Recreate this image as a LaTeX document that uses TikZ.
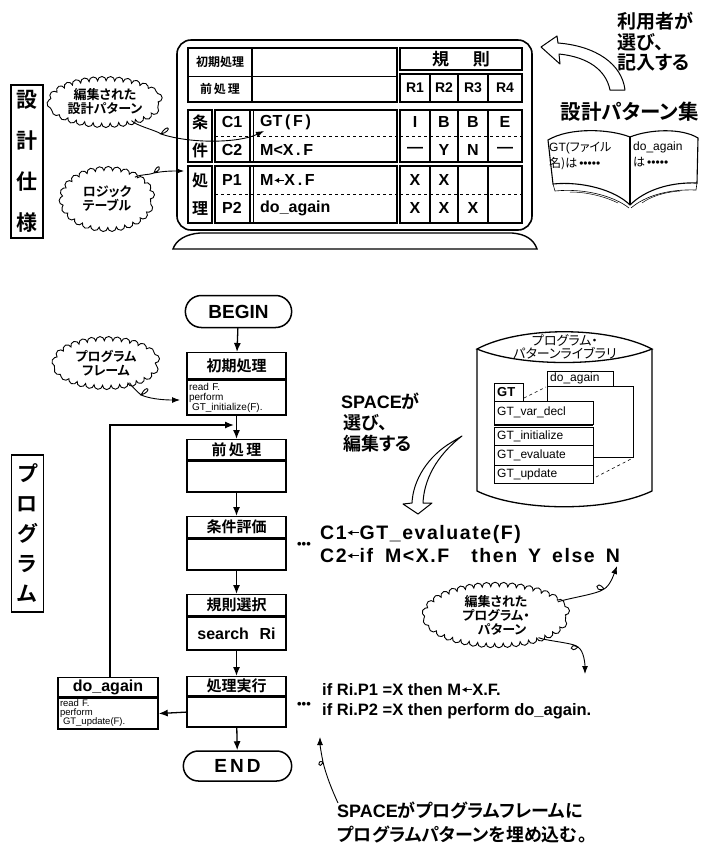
\documentclass[tikz,border=0pt]{standalone}
\usepackage{fontspec}
\setmainfont{Liberation Sans}
\newfontfamily\jpfont{Noto Sans CJK JP}[BoldFont=* Bold, RawFeature=+palt]
\usetikzlibrary{shapes.geometric,shapes.misc,arrows.meta,decorations.pathmorphing,positioning}

\newcommand\fsz[1]{\fontsize{#1}{#1}\selectfont}
\newcommand\jb{\jpfont\bfseries}
% short bold assignment arrow
\newcommand\la{\tikz[baseline=-0.32em, x=1pt, y=1pt]\draw[line width=1.3pt, -{Latex[length=5pt,width=5.5pt]}] (0.6em,0) -- (0,0);}

\tikzset{
  vbox/.style={draw, line width=1.4pt, minimum width=32pt, inner sep=0pt, align=center},
  hdr/.style={draw, line width=1.4pt, anchor=north, minimum width=99pt, inner sep=0pt, font=\jb\fsz{15}},
  body/.style={draw, line width=1.4pt, anchor=north, text width=95pt, inner sep=2pt, align=left},
  term/.style={draw, line width=1.5pt, rounded rectangle, minimum height=32pt, font=\fsz{19}\bfseries},
  flow/.style={line width=1.3pt, -{Latex[length=9pt,width=7pt]}},
  tail/.style={line width=0.9pt, -{Latex[length=8pt,width=6pt]}},
  note/.style={ellipse, draw, line width=0.9pt, inner sep=0pt, align=center,
    decorate, decoration={bumps, mirror, segment length=17pt, amplitude=4.5pt},
    font=\jb\fontsize{13}{14}\selectfont},
  cell/.style={inner sep=0pt, font=\fsz{16}\bfseries},
  code/.style={anchor=base west, inner sep=0pt, font=\fsz{19.5}\bfseries\addfontfeature{LetterSpace=8}},
  exec/.style={anchor=base west, inner sep=0pt, font=\fsz{16.5}\bfseries},
  dots/.style={inner sep=0pt, font=\fsz{13}\bfseries},
  hollow/.style={draw, line width=1pt, fill=white, line join=round},
  lib/.style={anchor=west, inner sep=0pt, font=\fsz{12}},
}

\begin{document}
\begin{tikzpicture}[x=1pt,y=-1pt]
\useasboundingbox (0,0) rectangle (710,847);

%% design spec (decision table on a monitor)
\node[vbox, minimum height=153pt, font=\jb\fontsize{21}{41}\selectfont] (spec) at (27,161.5) {設\\計\\仕\\様};

\draw[line width=1.6pt, rounded corners=14pt] (177,40) rectangle (532,230);
\draw[line width=1.4pt] (173,249) .. controls (176,240) and (186,234) .. (200,233) -- (512,233)
  .. controls (526,234) and (534,240) .. (537,249) -- cycle;

\begin{scope}[line width=1.2pt]
  % frame rows
  \draw (188,48) rectangle (397,102);
  \draw (252,48) -- (252,102);
  \draw[line width=0.7pt] (188,76) -- (397,76);
  % rules header
  \draw (400,48) rectangle (522,70);
  \draw (400,74) rectangle (522,102);
  % conditions
  \draw (188,110) rectangle (212,162);
  \draw (215,110) rectangle (397,162);
  \draw (400,110) rectangle (522,162);
  % actions
  \draw (188,166) rectangle (212,223);
  \draw (215,166) rectangle (397,223);
  \draw (400,166) rectangle (522,223);
  \foreach \y/\h in {110/162,166/223} {
    \draw (250,\y) -- (250,\h);
    \draw[line width=0.6pt] (253,\y) -- (253,\h);
  }
  \foreach \x in {430,458,488} {
    \draw (\x,74) -- (\x,102);
    \draw (\x,110) -- (\x,162);
    \draw (\x,166) -- (\x,223);
  }
  \draw[dashed, line width=0.7pt] (215,136) -- (397,136) (400,136) -- (522,136);
  \draw[dashed, line width=0.7pt] (215,194) -- (397,194) (400,194) -- (522,194);
\end{scope}

\node[font=\jb\fsz{12}] (ini) at (220,62) {初期処理};
\node[font=\jb\fsz{12}] (pre) at (220,89) {前\,処\,理};
\node[font=\jb\fsz{17}] (rules) at (461,59) {規\hspace{24pt}則};
\foreach \x/\t [count=\i] in {415/R1,444/R2,473/R3,505/R4}
  \node[cell, font=\fsz{14}\bfseries] (r\i) at (\x,88) {\t};
\node[font=\jb\fontsize{16}{28}\selectfont, inner sep=0pt, align=center] (cnd) at (200,136) {条\\件};
\node[font=\jb\fontsize{16}{28}\selectfont, inner sep=0pt, align=center] (act) at (200,194.5) {処\\理};
\node[cell] (c1) at (232,122) {C1};
\node[cell] (c2) at (232,150) {C2};
\node[cell] (p1) at (232,180) {P1};
\node[cell] (p2) at (232,208) {P2};
\node[cell, anchor=west] (gt) at (260,122) {GT\,(\,F\,)};
\node[cell, anchor=west] (lt) at (260,150) {M<X\,.\,F};
\node[cell, anchor=west] (mv) at (260,180) {M\la X\,.\,F};
\node[cell, anchor=west] (da) at (260,208) {do\_again};
\foreach \x/\a/\b [count=\i] in {415/I/—,444/B/Y,473/B/N,505/E/—} {
  \node[cell] (ca\i) at (\x,122) {\a};
  \node[cell] (cb\i) at (\x,150) {\b};
}
\foreach \x/\a/\b [count=\i] in {415/X/X,444/X/X,473/{}/X,505/{}/{}} {
  \node[cell] (pa\i) at (\x,180) {\a};
  \node[cell] (pb\i) at (\x,208) {\b};
}

% notes on the table
\node[note, minimum width=96pt, minimum height=42pt] (edited) at (105,102) {編集された\\設計パターン};
\node[note, minimum width=86pt, minimum height=56pt] (logic) at (107,199) {ロジック\\テーブル};
\coordinate (gtin) at (264,131);
\coordinate (tblin) at (184,171);
\draw[tail] (edited.-35) .. controls +(4,5) and +(-3,-3) .. (161,134)
  .. controls +(7,-12) and +(12,-3) .. (161,134)
  .. controls +(30,10) and +(-25,12) .. (gtin);
\draw[tail] (logic.38) .. controls +(5,-3) and +(-4,2) .. (154,173)
  .. controls +(3,-11) and +(11,-5) .. (154,173)
  .. controls +(10,-2) and +(-12,0) .. (tblin);

% pattern book
\draw[hollow] (610,90) .. controls (606,70) and (588,57) .. (559,54) -- (560,64) -- (541,47)
  -- (557,36) -- (558,43) .. controls (596,46) and (622,64) .. (625,90) -- cycle;
\node[anchor=north west, inner sep=0pt, align=left, font=\jb\fontsize{19}{20.5}\selectfont] (user) at (617,12) {利用者が\\選び、\\記入する};
\node[font=\jb\fsz{20.5}] (patbook) at (630,112) {設計パターン集};
\begin{scope}[line width=1.1pt]
  \draw (630,137) .. controls (610,129) and (570,127) .. (548,140) -- (553,184)
    .. controls (582,181) and (615,190) .. (630,205);
  \draw (630,137) .. controls (650,129) and (682,128) .. (698,138) -- (697,183)
    .. controls (670,182) and (645,190) .. (630,205);
  \draw (630,137) -- (630,205);
  \draw[line width=0.6pt] (553,184) -- (555,191) .. controls (584,188) and (614,196) .. (629,208);
  \draw[line width=0.6pt] (697,183) -- (696,190) .. controls (668,189) and (645,196) .. (631,208);
  \draw[line width=0.5pt] (570,192) .. controls (590,192) and (608,198) .. (618,203);
  \draw[line width=0.5pt] (680,191) .. controls (664,192) and (650,197) .. (642,203);
\end{scope}
\node[anchor=north west, inner sep=0pt, align=left, font=\fontsize{12}{16}\selectfont] (pgl) at (549,142) {GT({\jpfont ファイル}\\{\jpfont 名)は}\,\textbullet\textbullet\textbullet\textbullet\textbullet};
\node[anchor=north west, inner sep=0pt, align=left, font=\fontsize{12}{16}\selectfont] (pgr) at (633,142) {do\_again\\{\jpfont は}\,\textbullet\textbullet\textbullet\textbullet\textbullet};

%% program (flowchart)
\node[vbox, minimum height=157pt, font=\jb\fontsize{21}{30}\selectfont] (prog) at (27.5,533.5) {プ\\ロ\\グ\\ラ\\ム};

\node[term, minimum width=113pt] (begin) at (238.5,311.5) {BEGIN};
\node[hdr, minimum height=26pt] (inith) at (236.5,352) {初期処理};
\node[body, minimum height=35pt, font=\fontsize{10}{10}\selectfont] (initb) at (inith.south) {read F.\\perform\\\hspace*{3pt}GT\_initialize(F).};
\node[hdr, minimum height=20pt] (preh) at (236.5,439) {前\,処\,理};
\node[body, minimum height=31pt] (preb) at (preh.south) {};
\node[hdr, minimum height=21pt] (condh) at (236.5,516) {条件評価};
\node[body, minimum height=31pt] (condb) at (condh.south) {};
\node[hdr, minimum height=21pt] (ruleh) at (236.5,594) {規則選択};
\node[body, minimum height=33pt, align=center, font=\fsz{16}\bfseries] (ruleb) at (ruleh.south) {search\ \ Ri};
\node[hdr, minimum height=19pt] (exech) at (236.5,676) {処理実行};
\node[body, minimum height=30pt] (execb) at (exech.south) {};
\node[term, minimum width=115pt, minimum height=30pt] (end) at (237.5,766) {E\,N\,D};
\node[hdr, minimum height=19pt, minimum width=100pt, font=\fsz{16}\bfseries] (doagh) at (108,677) {do\_again};
\node[body, minimum height=27pt, text width=96pt, font=\fontsize{9.5}{9}\selectfont] (doagb) at (doagh.south) {read F.\\perform\\\hspace*{3pt}GT\_update(F).};

\draw[flow] (begin) -- (inith);
\draw[flow] (initb) -- (preh);
\draw[flow] (preb) -- (condh);
\draw[flow] (condb) -- (ruleh);
\draw[flow] (ruleb) -- (exech);
\draw[flow] (execb) -- (end);
\draw[flow] (execb.west) -- (doagb.east);
\coordinate (loopin) at (234,425);
\draw[flow] (doagh.north -| 110,0) |- (loopin);

\node[note, minimum width=98pt, minimum height=44pt] (frame) at (106,363) {プログラム\\フレーム};
\coordinate (framein) at (180,400);
\draw[tail] (frame.-40) .. controls +(3,5) and +(-3,-3) .. (141,395)
  .. controls +(6,-12) and +(12,-4) .. (141,395)
  .. controls +(12,5) and +(-10,0) .. (framein);

% filled-in patterns
\node[dots] (dots1) at (304,545) {\textbullet\textbullet\textbullet};
\node[dots] (dots2) at (304,705) {\textbullet\textbullet\textbullet};
\node[code] (ln1) at (320,539) {C1\la GT\_evaluate(F)};
\node[code] (ln2) at (320,562) {C2\la if\hspace{12pt}M<X.F\hspace{22pt}then\hspace{11pt}Y\hspace{11pt}else\hspace{11pt}N};
\node[exec] (ln3) at (322,695) {if Ri.P1 =X then M\la X.F.};
\node[exec] (ln4) at (322,715) {if Ri.P2 =X then perform do\_again.};

% pattern library
\begin{scope}[line width=1.3pt]
  \draw (477,349) -- (477,491) .. controls (520,512) and (608,512) .. (652,491) -- (652,349);
  \draw (477,349) .. controls (520,326) and (608,326) .. (652,349)
    .. controls (608,367) and (520,367) .. cycle;
\end{scope}
\node[font=\jpfont\fontsize{13}{12.5}\selectfont, align=center, inner sep=0pt] (libname) at (565,347) {プログラム・\\パターンライブラリ};
\begin{scope}[line width=1pt]
  \draw (547,401) -- (547,386) -- (633,386) -- (633,457) -- (593,457);
  \draw (547,371) rectangle (613,386);
  \draw (494,383) rectangle (523,401);
  \draw (494,401) rectangle (593,424);
  \draw[line width=1.6pt] (494,425.5) -- (593,425.5);
  \draw (494,427) rectangle (593,445);
  \draw (494,445) rectangle (593,465);
  \draw (494,465) rectangle (593,483);
  \draw[dashed, line width=0.6pt] (524,398) -- (546,387);
  \draw[dashed, line width=0.6pt] (596,477) -- (631,459);
\end{scope}
\node[lib] (pda) at (550,378.5) {do\_again};
\node[lib, font=\fsz{13}\bfseries] (pgt) at (497,392) {GT};
\node[lib] (pvar) at (497,412.5) {GT\_var\_decl};
\node[lib] (pini) at (497,436) {GT\_initialize};
\node[lib] (peva) at (497,455) {GT\_evaluate};
\node[lib] (pupd) at (497,474) {GT\_update};

\draw[hollow] (452,442) .. controls (428,456) and (413,480) .. (412,503) -- (403,504) -- (418,514)
  -- (432,503) -- (423,503) .. controls (424,480) and (436,456) .. (462,436) -- cycle;
\node[anchor=north west, inner sep=0pt, align=left, font=\fontsize{18}{21}\selectfont\bfseries] (space) at (341,393) {SPACE{\jb が}\\\hspace*{2pt}{\jb 選び、}\\\hspace*{2pt}{\jb 編集する}};

\node[note, minimum width=138pt, minimum height=46pt] (edprog) at (496,615) {編集された\\プログラム・\\\hspace*{12pt}パターン};
\coordinate (toN) at (617,566);
\coordinate (toP) at (585,674);
\draw[tail] (edprog.12) .. controls +(12,-4) and +(-6,5) .. (604,589)
  .. controls +(-8,-11) and +(-11,4) .. (604,589)
  .. controls +(6,-3) and +(-3,8) .. (toN);
\draw[tail] (edprog.-28) .. controls +(6,3) and +(-3,-4) .. (578,647)
  .. controls +(-8,8) and +(-10,-5) .. (578,647)
  .. controls +(6,4) and +(0,-10) .. (toP);

\node[anchor=north west, inner sep=0pt, align=left, font=\fontsize{18}{24}\selectfont\bfseries] (embed) at (337,802) {SPACE{\jb がプログラムフレームに}\\{\jb プログラムパターンを埋め込む。}};
\coordinate (embedout) at (338,803);
\coordinate (embedin) at (320,737);
\draw[tail] (embedout) .. controls (332,790) and (326,775) .. (323,762)
  .. controls +(-7,-3) and +(-4,9) .. (323,762)
  .. controls (321,752) and (320,745) .. (embedin);
\end{tikzpicture}
\end{document}
